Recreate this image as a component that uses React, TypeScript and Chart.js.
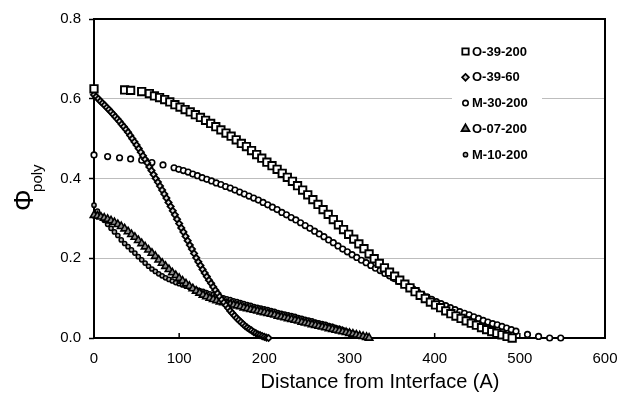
import React, { useEffect, useRef } from 'react';
import { Chart, registerables } from 'chart.js';

Chart.register(...registerables);

const FONT = "'Liberation Sans', Arial, Helvetica, sans-serif";

// ---- axes ----
const xTicks = [0, 100, 200, 300, 400, 500, 600];
const yTicks = [0, 0.2, 0.4, 0.6, 0.8];
const xTitle = 'Distance from Interface (A)';

// ---- series names ----
const seriesNames = ['O-39-200', 'O-39-60', 'M-30-200', 'O-07-200', 'M-10-200'];

// ---- O-39-200 (squares) ----
const o39_200_x = [0, 36, 43, 56, 65, 71, 77, 83, 89, 95, 101, 107, 113, 119, 125, 131, 137, 143, 149, 155, 161, 167, 173, 179, 185, 191, 197, 203, 209, 215, 221, 227, 233, 239, 245, 251, 257, 263, 269, 275, 281, 287, 293, 299, 305, 311, 317, 323, 329, 335, 341, 347, 353, 359, 365, 371, 377, 383, 389, 395, 401, 407, 413, 419, 425, 431, 437, 443, 449, 455, 461, 467, 473, 479, 485, 491];
const o39_200_y = [0.625, 0.622, 0.621, 0.618, 0.613, 0.607, 0.603, 0.598, 0.592, 0.585, 0.579, 0.573, 0.567, 0.560, 0.553, 0.546, 0.538, 0.530, 0.522, 0.514, 0.506, 0.497, 0.488, 0.480, 0.470, 0.460, 0.451, 0.441, 0.432, 0.423, 0.413, 0.403, 0.393, 0.382, 0.371, 0.359, 0.347, 0.335, 0.322, 0.310, 0.297, 0.284, 0.272, 0.260, 0.248, 0.236, 0.224, 0.211, 0.199, 0.187, 0.176, 0.165, 0.155, 0.145, 0.135, 0.126, 0.116, 0.107, 0.099, 0.090, 0.083, 0.076, 0.068, 0.061, 0.055, 0.049, 0.043, 0.037, 0.032, 0.026, 0.021, 0.016, 0.012, 0.008, 0.004, 0.000];

// ---- O-39-60 (diamonds) ----
const o39_60_x = [0, 2.5, 5, 7.5, 10, 12.5, 15, 17.5, 20, 22.5, 25, 27.5, 30, 32.5, 35, 37.5, 40, 42.5, 45, 47.5, 50, 52.5, 55, 57.5, 60, 62.5, 65, 67.5, 70, 72.5, 75, 77.5, 80, 82.5, 85, 87.5, 90, 92.5, 95, 97.5, 100, 102.5, 105, 107.5, 110, 112.5, 115, 117.5, 120, 122.5, 125, 127.5, 130, 132.5, 135, 137.5, 140, 142.5, 145, 147.5, 150, 152.5, 155, 157.5, 160, 162.5, 165, 167.5, 170, 172.5, 175, 177.5, 180, 182.5, 185, 187.5, 190, 192.5, 195, 197.5, 200, 202.5, 205];
const o39_60_y = [0.610, 0.605, 0.600, 0.594, 0.589, 0.584, 0.578, 0.573, 0.567, 0.561, 0.555, 0.549, 0.543, 0.536, 0.530, 0.523, 0.516, 0.508, 0.500, 0.492, 0.484, 0.475, 0.466, 0.457, 0.448, 0.439, 0.429, 0.420, 0.410, 0.400, 0.391, 0.381, 0.371, 0.361, 0.351, 0.340, 0.330, 0.319, 0.309, 0.298, 0.287, 0.276, 0.266, 0.255, 0.244, 0.233, 0.223, 0.212, 0.201, 0.191, 0.182, 0.172, 0.163, 0.154, 0.145, 0.137, 0.128, 0.120, 0.112, 0.104, 0.096, 0.089, 0.082, 0.075, 0.068, 0.062, 0.056, 0.050, 0.045, 0.040, 0.035, 0.030, 0.026, 0.022, 0.019, 0.015, 0.012, 0.009, 0.007, 0.005, 0.003, 0.001, 0.000];

// ---- M-30-200 (open circles) ----
const m30_200_x = [0, 16, 30, 43, 56, 68, 81, 94, 99.5, 105, 110.5, 116, 121.5, 127, 132.5, 138, 143.5, 149, 154.5, 160, 165.5, 171, 176.5, 182, 187.5, 193, 198.5, 204, 209.5, 215, 220.5, 226, 231.5, 237, 242.5, 248, 253.5, 259, 264.5, 270, 275.5, 281, 286.5, 292, 297.5, 303, 308.5, 314, 319.5, 325, 330.5, 336, 341.5, 347, 352.5, 358, 363.5, 369, 374.5, 380, 385.5, 391, 396.5, 402, 407.5, 413, 418.5, 424, 429.5, 435, 440.5, 446, 451.5, 457, 462.5, 468, 473.5, 479, 484.5, 490, 495.5, 509, 522, 535, 548];
const m30_200_y = [0.459, 0.455, 0.452, 0.449, 0.446, 0.440, 0.434, 0.427, 0.423, 0.420, 0.416, 0.411, 0.407, 0.402, 0.398, 0.394, 0.389, 0.385, 0.380, 0.376, 0.371, 0.366, 0.361, 0.356, 0.351, 0.346, 0.340, 0.334, 0.328, 0.322, 0.315, 0.309, 0.302, 0.296, 0.289, 0.282, 0.275, 0.268, 0.261, 0.254, 0.246, 0.239, 0.231, 0.223, 0.216, 0.209, 0.202, 0.195, 0.189, 0.182, 0.175, 0.169, 0.162, 0.156, 0.149, 0.142, 0.136, 0.129, 0.123, 0.116, 0.109, 0.103, 0.097, 0.091, 0.086, 0.081, 0.076, 0.071, 0.066, 0.062, 0.058, 0.053, 0.049, 0.044, 0.040, 0.036, 0.033, 0.029, 0.025, 0.021, 0.017, 0.009, 0.004, 0.000, 0.000];

// ---- O-07-200 (triangles) ----
const o07_200_x = [0, 4, 8, 12, 16, 20, 24, 28, 32, 36, 40, 44, 48, 52, 56, 60, 64, 68, 72, 76, 80, 84, 88, 92, 96, 100, 104, 108, 112, 116, 120, 124, 128, 132, 136, 140, 144, 148, 152, 156, 160, 164, 168, 172, 176, 180, 184, 188, 192, 196, 200, 204, 208, 212, 216, 220, 224, 228, 232, 236, 240, 244, 248, 252, 256, 260, 264, 268, 272, 276, 280, 284, 288, 292, 296, 300, 304, 308, 312, 316, 320, 323];
const o07_200_y = [0.308, 0.306, 0.304, 0.301, 0.298, 0.294, 0.290, 0.285, 0.280, 0.274, 0.267, 0.260, 0.253, 0.245, 0.237, 0.229, 0.221, 0.213, 0.205, 0.196, 0.188, 0.180, 0.172, 0.164, 0.157, 0.150, 0.143, 0.136, 0.130, 0.124, 0.118, 0.113, 0.108, 0.104, 0.100, 0.097, 0.094, 0.091, 0.089, 0.087, 0.085, 0.083, 0.081, 0.079, 0.076, 0.074, 0.072, 0.070, 0.068, 0.066, 0.064, 0.062, 0.060, 0.058, 0.055, 0.053, 0.051, 0.049, 0.047, 0.045, 0.043, 0.040, 0.038, 0.036, 0.034, 0.032, 0.030, 0.028, 0.026, 0.024, 0.022, 0.020, 0.018, 0.016, 0.014, 0.012, 0.010, 0.008, 0.006, 0.004, 0.002, 0.000];

// ---- M-10-200 (small circles) ----
const m10_200_x = [0, 4, 8, 12, 16, 20, 24, 28, 32, 36, 40, 44, 48, 52, 56, 60, 64, 68, 72, 76, 80, 84, 88, 92, 96, 100, 104, 108, 112, 116, 120, 124, 128, 132, 136, 140, 144, 148, 152, 156, 160, 164, 168, 172, 176, 180, 184, 188, 192, 196, 200, 204, 208, 212, 216, 220, 224, 228, 232, 236, 240, 244, 248, 252, 256, 260, 264, 268, 272, 276, 280, 284, 288, 292, 296, 300, 304, 308, 312, 316, 320];
const m10_200_y = [0.333, 0.318, 0.306, 0.295, 0.285, 0.275, 0.266, 0.257, 0.246, 0.237, 0.229, 0.221, 0.213, 0.204, 0.196, 0.188, 0.180, 0.173, 0.167, 0.161, 0.156, 0.151, 0.147, 0.143, 0.139, 0.136, 0.133, 0.130, 0.127, 0.124, 0.122, 0.119, 0.117, 0.114, 0.111, 0.109, 0.106, 0.103, 0.101, 0.098, 0.096, 0.093, 0.091, 0.089, 0.086, 0.084, 0.082, 0.079, 0.077, 0.075, 0.073, 0.071, 0.069, 0.067, 0.064, 0.062, 0.060, 0.058, 0.056, 0.054, 0.051, 0.049, 0.047, 0.045, 0.043, 0.040, 0.038, 0.036, 0.034, 0.031, 0.029, 0.026, 0.024, 0.021, 0.018, 0.015, 0.012, 0.009, 0.006, 0.003, 0.001];

type MarkerStyle = { shape: 'rect' | 'rectRot' | 'circle' | 'triangle'; radius: number; fill: string; border: number };

const markers: MarkerStyle[] = [
  { shape: 'rect', radius: 5.2, fill: '#ffffff', border: 1.9 },
  { shape: 'rectRot', radius: 3.1, fill: '#d8d8d8', border: 1.8 },
  { shape: 'circle', radius: 2.8, fill: '#ffffff', border: 1.6 },
  { shape: 'triangle', radius: 4.3, fill: '#8c8c8c', border: 1.6 },
  { shape: 'circle', radius: 2.1, fill: '#b0b0b0', border: 1.5 },
];

const legendMarkers: MarkerStyle[] = [
  { shape: 'rect', radius: 4.5, fill: '#ffffff', border: 1.8 },
  { shape: 'rectRot', radius: 3.4, fill: '#d0d0d0', border: 1.7 },
  { shape: 'circle', radius: 2.7, fill: '#ffffff', border: 1.6 },
  { shape: 'triangle', radius: 4.5, fill: '#7a7a7a', border: 1.8 },
  { shape: 'circle', radius: 2.1, fill: '#bbbbbb', border: 1.5 },
];

const seriesX = [o39_200_x, o39_60_x, m30_200_x, o07_200_x, m10_200_x];
const seriesY = [o39_200_y, o39_60_y, m30_200_y, o07_200_y, m10_200_y];

function drawMarker(ctx: CanvasRenderingContext2D, m: MarkerStyle, x: number, y: number) {
  const r = m.radius;
  ctx.beginPath();
  if (m.shape === 'rect') {
    const s = Math.SQRT1_2 * r;
    ctx.rect(x - s, y - s, 2 * s, 2 * s);
  } else if (m.shape === 'rectRot') {
    ctx.moveTo(x, y - r);
    ctx.lineTo(x + r, y);
    ctx.lineTo(x, y + r);
    ctx.lineTo(x - r, y);
    ctx.closePath();
  } else if (m.shape === 'circle') {
    ctx.arc(x, y, r, 0, Math.PI * 2);
  } else {
    const h = r * 1.5;
    const half = r * Math.sin(Math.PI / 3);
    ctx.moveTo(x, y - r);
    ctx.lineTo(x + half, y + h - r);
    ctx.lineTo(x - half, y + h - r);
    ctx.closePath();
  }
  ctx.fillStyle = m.fill;
  ctx.fill();
  ctx.lineWidth = m.border;
  ctx.strokeStyle = '#000';
  ctx.stroke();
}

const framePlugin = {
  id: 'frame',
  beforeDatasetsDraw(chart: any) {
    const { ctx, chartArea: a, scales } = chart;
    ctx.save();
    ctx.strokeStyle = '#000';
    ctx.lineWidth = 2;
    ctx.strokeRect(a.left, a.top, a.right - a.left, a.bottom - a.top);
    ctx.lineWidth = 1.5;
    ctx.beginPath();
    xTicks.forEach((v) => {
      const px = scales.x.getPixelForValue(v);
      ctx.moveTo(px, a.bottom);
      ctx.lineTo(px, a.bottom - 5);
    });
    ctx.stroke();
    ctx.restore();
  },
};

const legendPlugin = {
  id: 'innerLegend',
  afterDatasetsDraw(chart: any) {
    const { ctx, chartArea: a } = chart;
    const left = a.right - 153;
    const top = a.top + 19;
    ctx.save();
    ctx.fillStyle = '#fff';
    ctx.fillRect(left, top, 90, 132);
    ctx.font = `bold 13px ${FONT}`;
    ctx.textBaseline = 'middle';
    ctx.textAlign = 'left';
    seriesNames.forEach((name, i) => {
      const cy = top + 13.5 + i * 25.8;
      drawMarker(ctx, legendMarkers[i], left + 13.5, cy);
      ctx.fillStyle = '#000';
      ctx.fillText(name, left + 20, cy + 0.5);
    });
    ctx.restore();
  },
};

const titlesPlugin = {
  id: 'titles',
  afterDraw(chart: any) {
    const { ctx } = chart;
    ctx.save();
    ctx.fillStyle = '#000';
    // x-axis title
    ctx.font = `20px ${FONT}`;
    ctx.textAlign = 'center';
    ctx.textBaseline = 'alphabetic';
    ctx.fillText(xTitle, 380, 388);
    // y-axis title: Phi with subscript "poly"
    ctx.translate(33, 211);
    ctx.rotate(-Math.PI / 2);
    ctx.textAlign = 'left';
    ctx.font = `27px ${FONT}`;
    ctx.fillText('\u03A6', 0, 0);
    const w = ctx.measureText('\u03A6').width;
    ctx.font = `15px ${FONT}`;
    ctx.fillText('poly', w - 2.5, 9);
    ctx.restore();
  },
};

export default function App() {
  const ref = useRef<HTMLCanvasElement>(null);

  useEffect(() => {
    const canvas = ref.current;
    if (!canvas) return;

    const datasets = seriesNames.map((name, i) => {
      const m = markers[i];
      return {
        label: name,
        data: seriesX[i].map((x, j) => ({ x, y: seriesY[i][j] })),
        showLine: false,
        pointStyle: m.shape,
        pointRadius: m.radius,
        pointHoverRadius: m.radius,
        pointBackgroundColor: m.fill,
        pointBorderColor: '#000',
        pointBorderWidth: m.border,
        clip: false as any,
      };
    });

    const chart = new Chart(canvas, {
      type: 'scatter',
      data: { datasets },
      options: {
        animation: false,
        responsive: false,
        devicePixelRatio: 1,
        layout: { padding: { left: 0, top: 19, right: 12, bottom: 0 } },
        plugins: { legend: { display: false }, tooltip: { enabled: false } },
        scales: {
          x: {
            type: 'linear',
            min: 0,
            max: 600,
            afterBuildTicks: (s: any) => {
              s.ticks = xTicks.map((v) => ({ value: v }));
            },
            afterFit: (s: any) => {
              s.height = 55;
              s.paddingLeft = 0;
              s.paddingRight = 0;
            },
            grid: { display: true, drawOnChartArea: false, drawTicks: false },
            border: { display: false },
            ticks: { padding: 12, color: '#000', font: { family: FONT, size: 15 } },
            title: { display: false },
          },
          y: {
            type: 'linear',
            min: 0,
            max: 0.8,
            afterBuildTicks: (s: any) => {
              s.ticks = yTicks.map((v) => ({ value: v }));
            },
            afterFit: (s: any) => {
              s.width = 94;
            },
            grid: {
              color: (c: any) =>
                c.tick && (c.tick.value === 0 || c.tick.value === 0.8) ? 'rgba(0,0,0,0)' : '#bdbdbd',
              lineWidth: 1,
              drawTicks: true,
              tickLength: 5,
              tickColor: '#000',
              tickWidth: 1.5,
            },
            border: { display: false },
            ticks: {
              padding: 8,
              color: '#000',
              font: { family: FONT, size: 15 },
              callback: (v: any) => Number(v).toFixed(1),
            },
          },
        },
      },
      plugins: [framePlugin, legendPlugin, titlesPlugin],
    });

    return () => chart.destroy();
  }, []);

  return (
    <div style={{ position: 'fixed', left: 0, top: 0, width: 617, height: 393, background: '#fff' }}>
      <canvas ref={ref} width={617} height={393} style={{ display: 'block', width: 617, height: 393 }} />
    </div>
  );
}
